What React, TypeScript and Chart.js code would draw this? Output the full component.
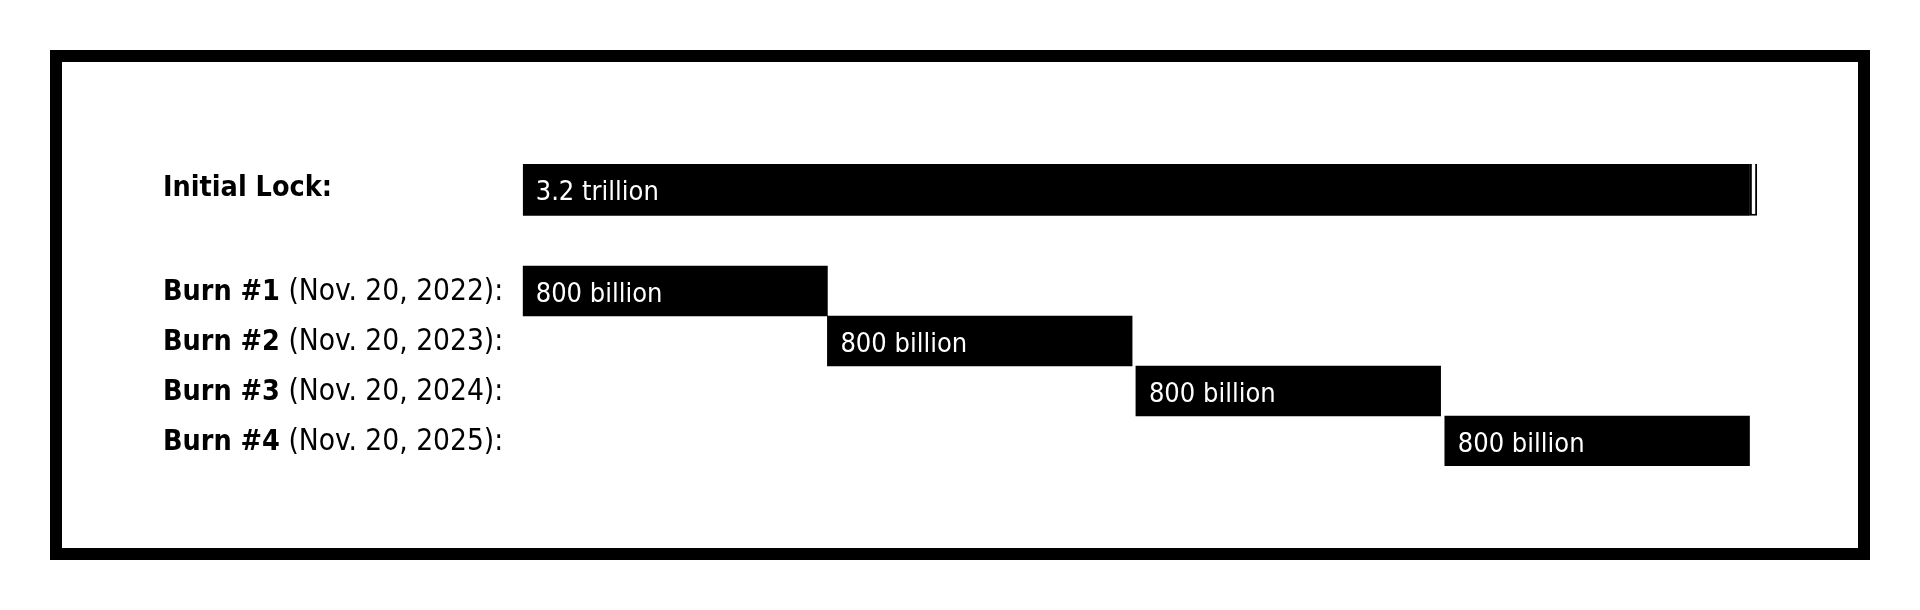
import React, { useEffect, useRef } from "react";
import { Chart, registerables } from "chart.js";

Chart.register(...registerables);

// ---- data (values in billions) ----
const categories = ["Initial Lock", "", "Burn #1", "Burn #2", "Burn #3", "Burn #4"];
const rowTitles = ["Initial Lock:", "", "Burn #1", "Burn #2", "Burn #3", "Burn #4"];
const rowDates = ["", "", " (Nov. 20, 2022):", " (Nov. 20, 2023):", " (Nov. 20, 2024):", " (Nov. 20, 2025):"];
const lockRanges: ([number, number] | null)[] = [[0, 3222], null, null, null, null, null];
const lockCapRanges: ([number, number] | null)[] = [[3222, 3241], null, null, null, null, null];
const burnRanges: ([number, number] | null)[] = [null, null, [0, 800], [800, 1600], [1610, 2410], [2421, 3221]];
const lockLabels = ["3.2 trillion", "", "", "", "", ""];
const burnLabels = ["", "", "800 billion", "800 billion", "800 billion", "800 billion"];
const xMin = 0;
const xMax = 3300;

const FONT = "'DejaVu Sans Condensed', 'DejaVu Sans', sans-serif";
const LOCK_SHIFT = -2;

const framePlugin = {
  id: "frame",
  beforeDraw(chart: any) {
    const { ctx, width, height } = chart;
    ctx.save();
    ctx.fillStyle = "#ffffff";
    ctx.fillRect(0, 0, width, height);
    ctx.strokeStyle = "#000000";
    ctx.lineWidth = 12;
    ctx.strokeRect(56, 56, 1808, 498);
    ctx.restore();
  },
};

const shiftPlugin = {
  id: "lockShift",
  beforeDatasetDraw(chart: any, args: any) {
    chart.ctx.save();
    if (args.index === 0 || args.index === 1) chart.ctx.translate(0, LOCK_SHIFT);
  },
  afterDatasetDraw(chart: any) {
    chart.ctx.restore();
  },
};

const textPlugin = {
  id: "texts",
  afterDatasetsDraw(chart: any) {
    const { ctx } = chart;
    const yScale = chart.scales.y;
    ctx.save();
    ctx.textBaseline = "alphabetic";
    ctx.textAlign = "left";
    ctx.fillStyle = "#000000";
    rowTitles.forEach((title, i) => {
      if (!title) return;
      const cy = yScale.getPixelForValue(i);
      const by = cy + (i === 0 ? 4.7 : 8.5);
      ctx.font = `bold 28.5px ${FONT}`;
      ctx.fillText(title, 163, by);
      const w = ctx.measureText(title).width;
      if (rowDates[i]) {
        ctx.font = `29.6px ${FONT}`;
        ctx.fillText(rowDates[i], 163 + w, by);
      }
    });
    ctx.fillStyle = "#ffffff";
    ctx.font = `27px ${FONT}`;
    const drawLabels = (dsIndex: number, labels: string[], dy: number) => {
      const meta = chart.getDatasetMeta(dsIndex);
      meta.data.forEach((el: any, i: number) => {
        if (!labels[i]) return;
        const p = el.getProps(["x", "y", "base"], true);
        const left = Math.min(p.x, p.base);
        ctx.fillText(labels[i], left + 13, p.y + dy + 10.7);
      });
    };
    drawLabels(0, lockLabels, LOCK_SHIFT);
    drawLabels(2, burnLabels, 0);
    ctx.restore();
  },
};

export default function App() {
  const ref = useRef<HTMLCanvasElement | null>(null);
  useEffect(() => {
    if (!ref.current) return;
    const chart = new Chart(ref.current, {
      type: "bar",
      data: {
        labels: categories,
        datasets: [
          {
            label: "Initial Lock",
            data: lockRanges as any,
            backgroundColor: "#000000",
            borderWidth: 0,
            barPercentage: 1.07,
            categoryPercentage: 1,
            grouped: false,
          } as any,
          {
            label: "Lock end",
            data: lockCapRanges as any,
            backgroundColor: "#ffffff",
            borderColor: "#000000",
            borderWidth: 2,
            borderSkipped: false,
            barPercentage: 1.07,
            categoryPercentage: 1,
            grouped: false,
          } as any,
          {
            label: "Burns",
            data: burnRanges as any,
            backgroundColor: "#000000",
            borderWidth: 0,
            barPercentage: 1,
            categoryPercentage: 1,
            grouped: false,
          } as any,
        ],
      },
      options: {
        indexAxis: "y",
        animation: false,
        responsive: false,
        maintainAspectRatio: false,
        layout: { padding: { left: 522.7, right: 140.4, top: 166, bottom: 144 } },
        plugins: {
          legend: { display: false },
          tooltip: { enabled: false },
          title: { display: false },
        },
        scales: {
          x: { type: "linear", min: xMin, max: xMax, display: false },
          y: { type: "category", display: false, offset: true },
        },
      },
      plugins: [framePlugin, shiftPlugin, textPlugin],
    });
    return () => chart.destroy();
  }, []);
  return (
    <div style={{ position: "absolute", left: 0, top: 0, width: 1920, height: 610 }}>
      <canvas ref={ref} width={1920} height={610} style={{ display: "block" }} />
    </div>
  );
}
